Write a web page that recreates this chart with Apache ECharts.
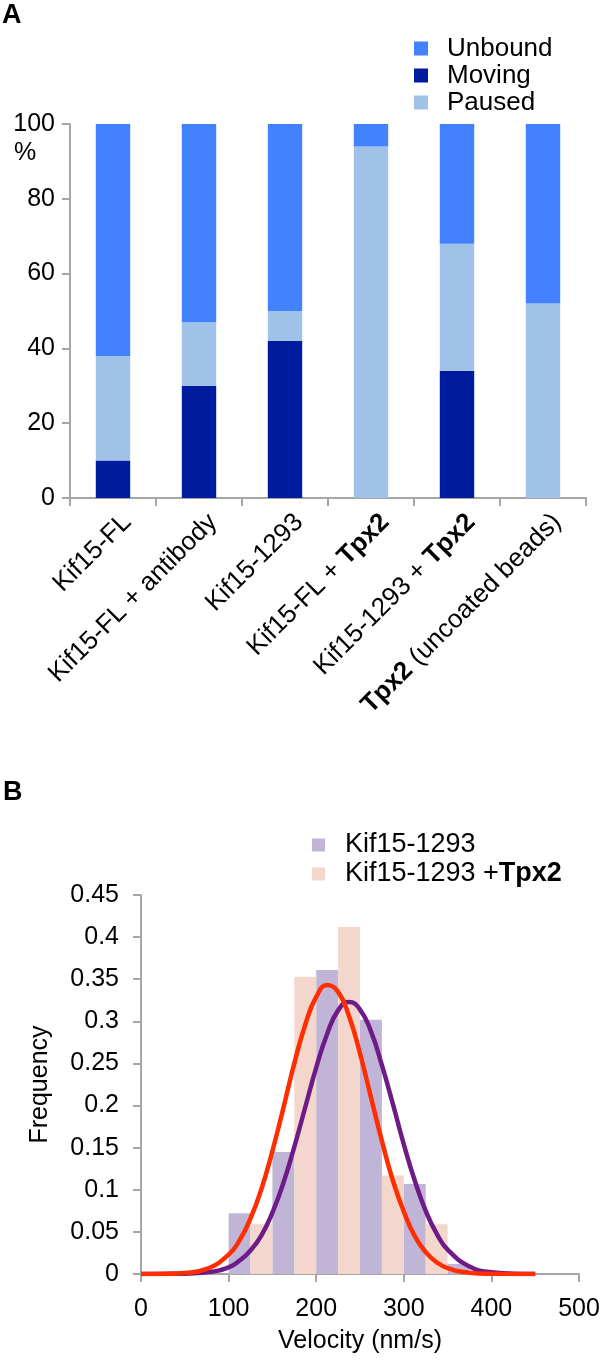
<!DOCTYPE html>
<html>
<head>
<meta charset="utf-8">
<script src="https://cdn.jsdelivr.net/npm/echarts@6/dist/echarts.min.js"></script>
<style>
html,body{margin:0;padding:0;background:#fff;}
#c{width:604px;height:1360px;}
</style>
</head>
<body>
<div id="c"></div>
<script>
// ---------- Panel A data ----------
const categories = ['Kif15-FL', 'Kif15-FL + antibody', 'Kif15-1293', 'Kif15-FL + Tpx2', 'Kif15-1293 + Tpx2', 'Tpx2 (uncoated beads)'];
const moving  = [10, 30, 42, 0, 34, 0];
const paused  = [28, 17, 8, 94, 34, 52];
const unbound = [62, 53, 50, 6, 32, 48];

// ---------- Panel B data ----------
const binWidth = 25;
const kifStarts = [100, 150, 200, 250, 300, 350];
const kifFreq   = [0.072, 0.145, 0.361, 0.302, 0.107, 0.012];
const tpxStarts = [125, 175, 225, 275, 325];
const tpxFreq   = [0.059, 0.353, 0.412, 0.117, 0.059];

const fitX     = [0, 25, 50, 75, 100, 112.5, 125, 137.5, 150, 162.5, 175, 187.5, 200, 212.5, 225, 237.5, 250, 262.5, 275, 287.5, 300, 312.5, 325, 337.5, 350, 375, 400, 425, 450];
const kifFit   = [0, 0.0001, 0.0004, 0.002, 0.008, 0.016, 0.028, 0.046, 0.073, 0.108, 0.151, 0.198, 0.245, 0.285, 0.313, 0.323, 0.314, 0.288, 0.248, 0.202, 0.154, 0.111, 0.075, 0.048, 0.029, 0.009, 0.002, 0.0004, 0.0001];
const tpxFit   = [0, 0.0002, 0.0013, 0.006, 0.023, 0.040, 0.066, 0.101, 0.146, 0.197, 0.250, 0.296, 0.329, 0.343, 0.335, 0.306, 0.262, 0.210, 0.158, 0.111, 0.074, 0.045, 0.026, 0.014, 0.007, 0.0015, 0.0002, 0, 0];

const FONT = "'Liberation Sans', Arial, Helvetica, sans-serif";
const AXIS_COLOR = '#a6a6a6';
const C_UNBOUND = '#4382ff', C_MOVING = '#001c9e', C_PAUSED = '#a0c2e9';
const C_KIF = '#c0b4d7', C_TPX = '#f3d6cc', C_KIF_LINE = '#6e1b87', C_TPX_LINE = '#ff2e00';

function boldTpx(s) {
  return '{n|' + s.replace('Tpx2', '}{b|Tpx2}{n|') + '}';
}

const chart = echarts.init(document.getElementById('c'), null, {renderer: 'canvas'});

function histSeries(name, starts, freqs, color) {
  return {
    name: name, type: 'custom', xAxisIndex: 1, yAxisIndex: 1, z: 1,
    itemStyle: {color: color},
    encode: {x: [0, 1], y: 2},
    data: starts.map((s, i) => [s, s + binWidth, freqs[i]]),
    renderItem: function (params, api) {
      const p0 = api.coord([api.value(0), api.value(2)]);
      const p1 = api.coord([api.value(1), 0]);
      return {type: 'rect', shape: {x: p0[0], y: p0[1], width: p1[0] - p0[0], height: p1[1] - p0[1]},
              style: {fill: color}};
    }
  };
}

const option = {
  animation: false,
  backgroundColor: '#fff',
  textStyle: {fontFamily: FONT, color: '#000'},
  graphic: [
    {type: 'text', left: 2, top: 2, style: {text: 'A', font: 'bold 27px ' + FONT, fill: '#000'}},
    {type: 'text', left: 3, top: 779, style: {text: 'B', font: 'bold 27px ' + FONT, fill: '#000'}},
    {type: 'text', left: 14, top: 141, style: {text: '%', font: '25px ' + FONT, fill: '#000'}}
  ],
  legend: [
    {
      data: ['Unbound', 'Moving', 'Paused'], orient: 'vertical', left: 409, top: 30,
      itemWidth: 14, itemHeight: 14, itemGap: 0, icon: 'rect',
      textStyle: {fontFamily: FONT, fontSize: 26, lineHeight: 27, color: '#000', padding: [0, 0, 0, 14]}
    },
    {
      data: ['Kif15-1293', 'Kif15-1293 +Tpx2'], orient: 'vertical', left: 307, top: 826,
      itemWidth: 13, itemHeight: 13, itemGap: 1, icon: 'rect',
      formatter: function (name) { return boldTpx(name); },
      textStyle: {fontFamily: FONT, fontSize: 27, lineHeight: 28, color: '#000', padding: [0, 0, 0, 15],
        rich: {n: {fontFamily: FONT, fontSize: 27, color: '#000'}, b: {fontFamily: FONT, fontSize: 27, fontWeight: 'bold', color: '#000'}}}
    }
  ],
  grid: [
    {left: 70, top: 124, width: 516, height: 374},
    {left: 141, top: 895, width: 438, height: 379}
  ],
  xAxis: [
    {
      type: 'category', gridIndex: 0, data: categories,
      axisLine: {lineStyle: {color: AXIS_COLOR, width: 2}},
      axisTick: {show: true, length: 8, lineStyle: {color: AXIS_COLOR, width: 2}},
      axisLabel: {
        rotate: 45, margin: 6, interval: 0, fontSize: 26, color: '#000', fontFamily: FONT,
        verticalAlign: 'top', lineHeight: 40,
        formatter: function (v) { return boldTpx(v); },
        rich: {n: {fontFamily: FONT, fontSize: 26, lineHeight: 40, color: '#000'},
               b: {fontFamily: FONT, fontSize: 26, lineHeight: 40, fontWeight: 'bold', color: '#000'}}
      }
    },
    {
      type: 'value', gridIndex: 1, min: 0, max: 500, interval: 100,
      name: 'Velocity (nm/s)', nameLocation: 'middle', nameGap: 55,
      nameTextStyle: {fontFamily: FONT, fontSize: 25, color: '#000'},
      axisLine: {show: true, lineStyle: {color: AXIS_COLOR, width: 2}},
      axisTick: {show: true, length: 8, lineStyle: {color: AXIS_COLOR, width: 2}},
      axisLabel: {margin: 23, fontSize: 25, color: '#000', fontFamily: FONT},
      splitLine: {show: false}
    }
  ],
  yAxis: [
    {
      type: 'value', gridIndex: 0, min: 0, max: 100, interval: 20,
      axisLine: {show: true, lineStyle: {color: AXIS_COLOR, width: 2}},
      axisTick: {show: true, length: 8, lineStyle: {color: AXIS_COLOR, width: 2}},
      axisLabel: {margin: 15, fontSize: 25, color: '#000', fontFamily: FONT},
      splitLine: {show: false}
    },
    {
      type: 'value', gridIndex: 1, min: 0, max: 0.45, interval: 0.05,
      name: 'Frequency', nameLocation: 'middle', nameGap: 88, nameRotate: 90,
      nameTextStyle: {fontFamily: FONT, fontSize: 25, color: '#000'},
      axisLine: {show: true, lineStyle: {color: AXIS_COLOR, width: 2}},
      axisTick: {show: true, length: 8, lineStyle: {color: AXIS_COLOR, width: 2}},
      axisLabel: {margin: 22, fontSize: 25, color: '#000', fontFamily: FONT},
      splitLine: {show: false}
    }
  ],
  series: [
    {name: 'Moving', type: 'bar', stack: 'a', xAxisIndex: 0, yAxisIndex: 0, data: moving,
     itemStyle: {color: C_MOVING}, barCategoryGap: '60%'},
    {name: 'Paused', type: 'bar', stack: 'a', xAxisIndex: 0, yAxisIndex: 0, data: paused,
     itemStyle: {color: C_PAUSED}, barCategoryGap: '60%'},
    {name: 'Unbound', type: 'bar', stack: 'a', xAxisIndex: 0, yAxisIndex: 0, data: unbound,
     itemStyle: {color: C_UNBOUND}, barCategoryGap: '60%'},
    histSeries('Kif15-1293', kifStarts, kifFreq, C_KIF),
    histSeries('Kif15-1293 +Tpx2', tpxStarts, tpxFreq, C_TPX),
    {name: 'Kif15-1293 fit', type: 'line', xAxisIndex: 1, yAxisIndex: 1, z: 3, smooth: true, showSymbol: false,
     lineStyle: {color: C_KIF_LINE, width: 4.5}, itemStyle: {color: C_KIF_LINE},
     data: fitX.map((x, i) => [x, kifFit[i]])},
    {name: 'Kif15-1293 +Tpx2 fit', type: 'line', xAxisIndex: 1, yAxisIndex: 1, z: 4, smooth: true, showSymbol: false,
     lineStyle: {color: C_TPX_LINE, width: 4.5}, itemStyle: {color: C_TPX_LINE},
     data: fitX.map((x, i) => [x, tpxFit[i]])}
  ]
};
chart.setOption(option);
</script>
</body>
</html>
